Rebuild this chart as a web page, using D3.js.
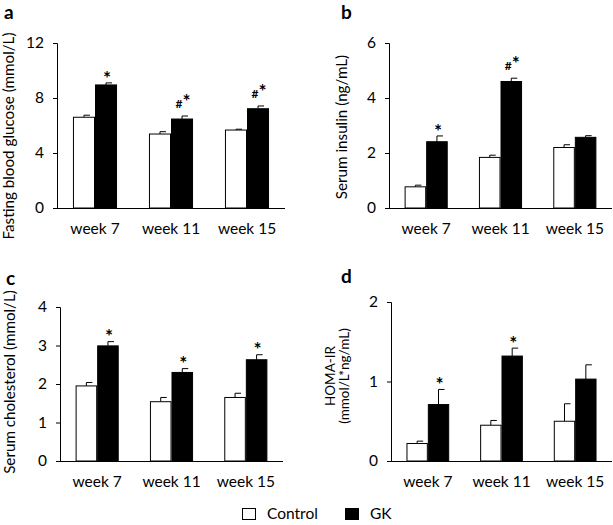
<!DOCTYPE html>
<html><head><meta charset="utf-8">
<script src="https://cdn.jsdelivr.net/npm/d3@7"></script>
<style>body{margin:0;background:#fff}svg{display:block}text{font-family:Lato,"Noto Sans",sans-serif;fill:#000}</style>
</head><body>
<svg id="c" width="613" height="525"></svg>
<script>
const weeks = ["week 7", "week 11", "week 15"];
const series = ["Control", "GK"];

const glucoseControl = [6.6, 5.38, 5.67];
const glucoseControlErr = [0.15, 0.17, 0.06];
const glucoseGK = [8.95, 6.47, 7.22];
const glucoseGKErr = [0.15, 0.22, 0.2];
const glucoseMarks = ["*", "#*", "#*"];

const insulinControl = [0.77, 1.84, 2.2];
const insulinControlErr = [0.06, 0.08, 0.1];
const insulinGK = [2.41, 4.6, 2.57];
const insulinGKErr = [0.21, 0.12, 0.06];
const insulinMarks = ["*", "#*", ""];

const cholControl = [1.95, 1.54, 1.65];
const cholControlErr = [0.09, 0.11, 0.11];
const cholGK = [2.99, 2.3, 2.63];
const cholGKErr = [0.11, 0.1, 0.13];
const cholMarks = ["*", "*", "*"];

const homaControl = [0.22, 0.45, 0.5];
const homaControlErr = [0.03, 0.06, 0.22];
const homaGK = [0.71, 1.32, 1.03];
const homaGKErr = [0.19, 0.1, 0.18];
const homaMarks = ["*", "*", ""];

const glucoseTicks = [0, 4, 8, 12];
const insulinTicks = [0, 2, 4, 6];
const cholTicks = [0, 1, 2, 3, 4];
const homaTicks = [0, 1, 2];

const svg = d3.select("#c");
const ARIAL = "'Liberation Sans', Arial, sans-serif";

function panel(o) {
  const g = svg.append("g");
  const x = d3.scaleBand().domain(weeks).range([o.x0, o.x1]).paddingInner(0.42).paddingOuter(0.21);
  const xs = d3.scaleBand().domain(series).range([0, x.bandwidth()]);
  const y = d3.scaleLinear().domain([0, d3.max(o.ticks)]).range([o.yb, o.yt]);
  const rows = [];
  weeks.forEach((w, i) => {
    rows.push({w, s: "Control", v: o.ctrl[i], e: o.ctrlErr[i]});
    rows.push({w, s: "GK", v: o.gk[i], e: o.gkErr[i], m: o.marks[i]});
  });
  const eb = g.append("g");
  rows.forEach(r => {
    const cx = x(r.w) + xs(r.s) + xs.bandwidth() / 2;
    eb.append("line").attr("x1", cx).attr("x2", cx).attr("y1", y(r.v)).attr("y2", y(r.v + r.e))
      .attr("stroke", "#000").attr("stroke-width", 1);
    eb.append("line").attr("x1", cx).attr("x2", cx + 6).attr("y1", y(r.v + r.e)).attr("y2", y(r.v + r.e))
      .attr("stroke", "#000").attr("stroke-width", 1);
  });
  g.selectAll("rect.bar").data(rows).join("rect")
    .attr("x", d => x(d.w) + xs(d.s) + 0.5)
    .attr("y", d => y(d.v))
    .attr("width", xs.bandwidth() - 1)
    .attr("height", d => y(0) - y(d.v))
    .attr("fill", d => d.s === "GK" ? "#000" : "#fff")
    .attr("stroke", "#000").attr("stroke-width", 1);
  rows.filter(r => r.m).forEach(r => {
    const cx = x(r.w) + xs(r.s) + xs.bandwidth() / 2;
    const top = y(r.v + r.e);
    const t = g.append("text").attr("x", cx + 1).attr("text-anchor", "middle")
      .attr("font-family", ARIAL).attr("font-weight", "bold");
    if (r.m === "#*") {
      t.attr("y", top - 8);
      t.append("tspan").attr("font-size", 12).text("#");
      t.append("tspan").attr("font-size", 19).text("*");
    } else {
      t.attr("y", top + 1.7).attr("font-size", 19).text(r.m);
    }
  });
  const ya = g.append("g").attr("transform", `translate(${o.x0},0)`)
    .call(d3.axisLeft(y).tickValues(o.ticks).tickSize(4).tickPadding(9).tickFormat(d3.format("d")));
  ya.select(".domain").attr("stroke", "#000");
  ya.selectAll("line").attr("stroke", "#000");
  ya.selectAll("text").attr("font-size", 15.5).attr("font-family", "Lato");
  const xa = g.append("g").attr("transform", `translate(0,${o.yb})`)
    .call(d3.axisBottom(x).tickSize(0).tickPadding(15));
  xa.select(".domain").attr("d", `M${o.x0},0.5H${o.x1}`).attr("stroke", "#000");
  xa.selectAll("text").attr("font-size", 15.5).attr("font-family", "Lato");
  g.append("text").attr("x", o.lx).attr("y", o.ly).attr("font-size", 19).attr("font-weight", "bold")
    .attr("font-family", ARIAL).text(o.letter);
  o.ylab.forEach((t, i) => {
    g.append("text").attr("transform", `translate(${o.yx[i]},${o.yc}) rotate(-90)`)
      .attr("text-anchor", "middle").attr("font-size", o.yfs)
      .attr("font-family", o.yff).text(t);
  });
}

panel({x0: 57, x1: 285, yt: 43, yb: 208, ticks: glucoseTicks, ctrl: glucoseControl, ctrlErr: glucoseControlErr,
  gk: glucoseGK, gkErr: glucoseGKErr, marks: glucoseMarks, letter: "a", lx: 4, ly: 19,
  ylab: ["Fasting blood glucose (mmol/L)"], yx: [14], yc: 136, yfs: 15.2, yff: "Lato"});
panel({x0: 389, x1: 612, yt: 43, yb: 208, ticks: insulinTicks, ctrl: insulinControl, ctrlErr: insulinControlErr,
  gk: insulinGK, gkErr: insulinGKErr, marks: insulinMarks, letter: "b", lx: 341, ly: 19,
  ylab: ["Serum insulin (ng/mL)"], yx: [347], yc: 127, yfs: 15.2, yff: "Lato"});
panel({x0: 60, x1: 283, yt: 307, yb: 461, ticks: cholTicks, ctrl: cholControl, ctrlErr: cholControlErr,
  gk: cholGK, gkErr: cholGKErr, marks: cholMarks, letter: "c", lx: 6, ly: 285,
  ylab: ["Serum cholesterol (mmol/L)"], yx: [15], yc: 382, yfs: 15.2, yff: "Lato"});
panel({x0: 391, x1: 612, yt: 302, yb: 461, ticks: homaTicks, ctrl: homaControl, ctrlErr: homaControlErr,
  gk: homaGK, gkErr: homaGKErr, marks: homaMarks, letter: "d", lx: 341, ly: 283,
  ylab: ["HOMA-IR", "(mmol/L*ng/mL)"], yx: [335, 349], yc: 376, yfs: 13.5, yff: ARIAL});

const lg = svg.append("g");
series.forEach((s, i) => {
  const lx = [242, 345][i];
  lg.append("rect").attr("x", lx + 0.5).attr("y", 508.5).attr("width", 13).attr("height", 11)
    .attr("fill", s === "GK" ? "#000" : "#fff").attr("stroke", "#000");
  lg.append("text").attr("x", lx + 25).attr("y", 519).attr("font-size", 15.5).text(s);
});
</script>
</body></html>
